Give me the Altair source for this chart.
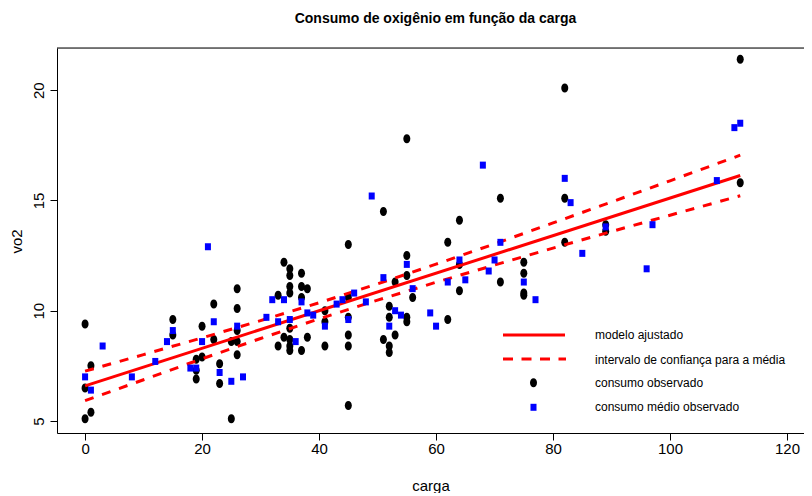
import altair as alt
import pandas as pd

FONT = "Liberation Sans, Arial, sans-serif"

# observed consumption (black dots)
obs_carga = [0, 0, 0, 1, 1, 15, 15, 19, 19, 19, 20, 20, 22, 22, 23, 23, 25, 25,
             26, 26, 26, 26, 26, 33, 33, 34, 34, 35, 35, 35, 35, 35, 35, 35, 35,
             37, 37, 37, 37, 38, 38, 41, 41, 41, 45, 45, 45, 45, 45, 45, 51, 51,
             52, 52, 52, 52, 53, 53, 55, 55, 55, 55, 55, 56, 62, 62, 64, 64, 64,
             71, 71, 75, 75, 75, 75, 82, 82, 82, 89, 89, 112, 112]
obs_vo2 = [9.4, 6.5, 5.1, 7.5, 5.4, 9.6, 8.9, 7.8, 7.3, 6.9, 9.3, 7.9, 10.3, 8.7, 7.6, 6.7, 8.6, 5.1,
           11.0, 10.1, 9.1, 8.6, 8.0, 10.7, 8.4, 12.2, 8.8, 11.9, 11.6, 11.1, 10.8, 9.2, 8.7, 8.4, 8.2,
           11.7, 11.1, 10.6, 8.2, 11.0, 8.8, 10.0, 9.5, 8.4, 13.0, 10.6, 9.7, 8.9, 8.4, 5.7, 14.5, 8.7,
           10.2, 9.7, 8.4, 8.1, 11.3, 8.9, 17.8, 12.5, 11.6, 9.7, 9.5, 10.6, 13.1, 9.6, 14.1, 12.1, 10.9,
           15.1, 11.3, 12.2, 11.7, 10.8, 10.7, 20.1, 15.1, 13.1, 13.9, 13.6, 21.4, 15.8]

# mean observed consumption (blue squares)
mean_carga = [0, 1, 3, 8, 12, 14, 15, 18, 19, 20, 21, 22, 23, 25, 26, 27, 31, 32, 33, 34,
              35, 36, 37, 38, 39, 41, 43, 44, 45, 46, 48, 49, 51, 52, 53, 54, 55, 56, 59, 60,
              62, 64, 65, 68, 69, 70, 71, 75, 77, 82, 83, 85, 89, 96, 97, 108, 111, 112]
mean_vo2 = [7.0, 6.4, 8.4, 7.0, 7.7, 8.6, 9.1, 7.4, 7.4, 8.6, 12.9, 9.5, 7.2, 6.8, 9.3, 7.0, 9.7, 10.5, 9.5, 10.5,
            9.6, 8.6, 10.4, 9.9, 9.8, 9.3, 10.3, 10.5, 9.6, 10.8, 10.4, 15.2, 11.5, 9.3, 10.0, 9.8, 12.1, 11.0, 9.9, 9.3,
            11.3, 12.3, 11.4, 16.6, 11.8, 12.3, 13.1, 11.3, 10.5, 16.0, 14.9, 12.6, 13.8, 11.9, 13.9, 15.9, 18.3, 18.5]

# fitted model
fit_carga = [0, 112]
fit_vo2 = [6.59, 16.13]

# confidence band for the mean
ci_carga = [0, 10, 20, 30, 40, 50, 60, 70, 80, 90, 100, 112]
ci_upper = [7.26, 8.01, 8.77, 9.55, 10.36, 11.22, 12.11, 13.03, 13.98, 14.93, 15.89, 17.05]
ci_lower = [5.92, 6.87, 7.82, 8.74, 9.63, 10.48, 11.29, 12.07, 12.84, 13.59, 14.33, 15.21]

x_ticks = [0, 20, 40, 60, 80, 100, 120]
y_ticks = [5, 10, 15, 20]

title_text = "Consumo de oxigênio em função da carga"
legend_labels = ["modelo ajustado", "intervalo de confiança para a média",
                 "consumo observado", "consumo médio observado"]

W, H = 747, 385

obs_df = pd.DataFrame({"carga": obs_carga, "vo2": obs_vo2})
mean_df = pd.DataFrame({"carga": mean_carga, "vo2": mean_vo2})
fit_df = pd.DataFrame({"carga": fit_carga, "vo2": fit_vo2})
ci_df = pd.concat([
    pd.DataFrame({"carga": ci_carga, "vo2": ci_upper, "bound": "upper"}),
    pd.DataFrame({"carga": ci_carga, "vo2": ci_lower, "bound": "lower"}),
])

xs = alt.Scale(domain=[-4.8, 122.9], nice=False, zero=False)
ys = alt.Scale(domain=[4.456, 21.91], nice=False, zero=False)

x_axis = alt.Axis(values=x_ticks, title="carga", grid=False, tickSize=7, tickColor="black",
                  domainColor="black", labelColor="black", labelFont=FONT, labelFontSize=15,
                  labelPadding=1, labelBaseline="top", titleFont=FONT, titleFontSize=15,
                  titleFontWeight="normal", titleColor="black", titleBaseline="alphabetic",
                  titleY=57.5, labelFlush=False)
y_axis = alt.Axis(values=y_ticks, title="vo2", grid=False, tickSize=7, tickColor="black",
                  domainColor="black", labelColor="black", labelFont=FONT, labelFontSize=15,
                  labelAngle=-90, labelAlign="center", labelBaseline="bottom", labelPadding=3.5,
                  titleFont=FONT, titleFontSize=15, titleFontWeight="normal", titleColor="black",
                  titleAngle=-90, titleAlign="center", titleBaseline="middle", titleX=-41, titleY=193,
                  labelFlush=False)

ELLIPSE = "M-0.78,0A0.78,1,0,1,0,0.78,0A0.78,1,0,1,0,-0.78,0Z"
RECT = "M-0.86,-1L0.86,-1L0.86,1L-0.86,1Z"

obs = alt.Chart(obs_df).mark_point(shape=ELLIPSE, filled=True, size=81, color="black",
                                   opacity=1, strokeWidth=0).encode(
    x=alt.X("carga:Q", scale=xs, axis=x_axis),
    y=alt.Y("vo2:Q", scale=ys, axis=y_axis),
)

ci = alt.Chart(ci_df).mark_line(color="red", strokeWidth=3, strokeDash=[9, 9]).encode(
    x=alt.X("carga:Q", scale=xs), y=alt.Y("vo2:Q", scale=ys), detail="bound:N")

fit = alt.Chart(fit_df).mark_line(color="red", strokeWidth=3).encode(
    x=alt.X("carga:Q", scale=xs), y=alt.Y("vo2:Q", scale=ys))

means = alt.Chart(mean_df).mark_point(shape=RECT, filled=True, size=49, color="#0000ff",
                                      opacity=1, strokeWidth=0).encode(
    x=alt.X("carga:Q", scale=xs), y=alt.Y("vo2:Q", scale=ys))

one = pd.DataFrame({"k": [0]})
top_border = alt.Chart(one).mark_rule(color="black", strokeWidth=1).encode(
    x=alt.value(0), x2=alt.value(W), y=alt.value(0))

title_mark = alt.Chart(one).mark_text(align="center", baseline="alphabetic", font=FONT,
                                      fontSize=14, fontWeight="bold", color="black").encode(
    x=alt.value(W / 2 + 5), y=alt.value(-25), text=alt.value(title_text))

# legend
lg_solid = alt.Chart(one).mark_rule(color="red", strokeWidth=3).encode(
    x=alt.value(446), x2=alt.value(508), y=alt.value(287))
lg_dash = alt.Chart(one).mark_rule(color="red", strokeWidth=3, strokeDash=[10, 8.5]).encode(
    x=alt.value(446), x2=alt.value(509), y=alt.value(311))
lg_dot = alt.Chart(one).mark_point(shape=ELLIPSE, filled=True, size=81, color="black",
                                   opacity=1, strokeWidth=0).encode(
    x=alt.value(476.5), y=alt.value(334.7))
lg_sq = alt.Chart(one).mark_point(shape=RECT, filled=True, size=49, color="#0000ff",
                                  opacity=1, strokeWidth=0).encode(
    x=alt.value(476.5), y=alt.value(359.3))
lg_texts = []
for lab, yy in zip(legend_labels, [287, 311.5, 335, 359]):
    lg_texts.append(alt.Chart(one).mark_text(align="left", baseline="middle", font=FONT,
                                             fontSize=12, color="black").encode(
        x=alt.value(538), y=alt.value(yy), text=alt.value(lab)))

chart = alt.layer(obs, ci, fit, means, top_border, title_mark, lg_solid, lg_dash, lg_dot, lg_sq,
                  *lg_texts).properties(
    width=W, height=H,
    autosize=alt.AutoSizeParams(type="none"),
    padding={"left": 49, "top": 40, "right": 0, "bottom": 60},
).configure_view(stroke=None).configure(background="white")

chart.save("out.html", embed_options={"renderer": "svg", "actions": False})
